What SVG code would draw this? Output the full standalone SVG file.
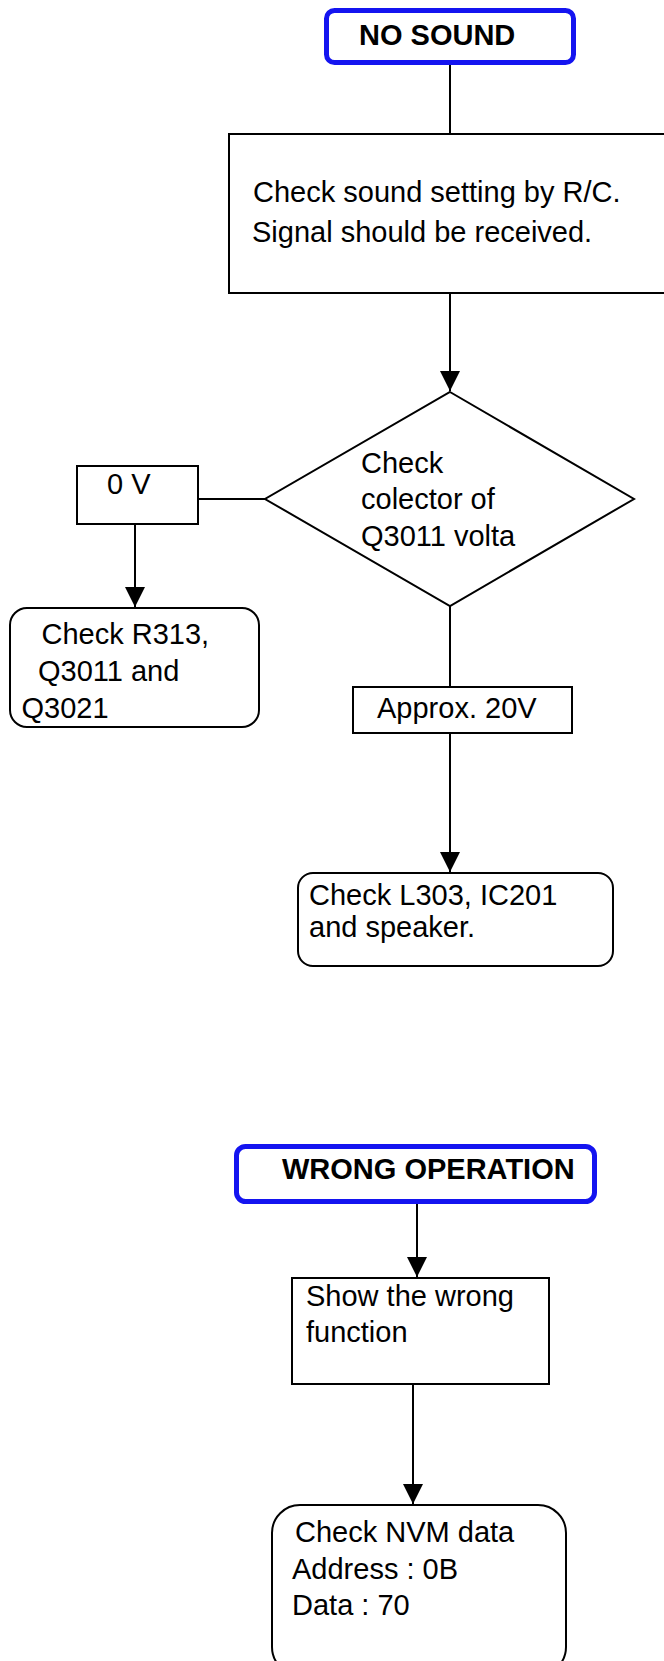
<svg xmlns="http://www.w3.org/2000/svg" width="664" height="1661" viewBox="0 0 664 1661">
<style>
.t{font-family:"Liberation Sans",Arial,sans-serif;font-size:29px;fill:#000}
.b{font-family:"Liberation Sans",Arial,sans-serif;font-size:29px;font-weight:bold;fill:#000}
.box{fill:#fff;stroke:#000;stroke-width:2}
.start{fill:#fff;stroke:#1414f0;stroke-width:5}
.c{fill:none;stroke:#000;stroke-width:2}
</style>
<defs>
<marker id="ah" markerUnits="userSpaceOnUse" markerWidth="21" markerHeight="21" refX="20" refY="10" orient="auto">
<path d="M0,0 L20,10 L0,20 z" fill="#000"/>
</marker>
</defs>
<rect width="664" height="1661" fill="#fff"/>
<g id="connectors">
<line class="c" x1="450" y1="65" x2="450" y2="134"/>
<line class="c" x1="450" y1="294" x2="450" y2="391" marker-end="url(#ah)"/>
<line class="c" x1="265" y1="499" x2="198" y2="499"/>
<line class="c" x1="135" y1="524" x2="135" y2="607" marker-end="url(#ah)"/>
<line class="c" x1="450" y1="606" x2="450" y2="687"/>
<line class="c" x1="450" y1="733" x2="450" y2="872" marker-end="url(#ah)"/>
<line class="c" x1="417" y1="1204" x2="417" y2="1277" marker-end="url(#ah)"/>
<line class="c" x1="413" y1="1384" x2="413" y2="1504" marker-end="url(#ah)"/>
</g>
<g id="no-sound">
<rect class="start" x="326.5" y="10.5" width="247" height="52" rx="8"/>
<text class="b" x="359" y="45">NO SOUND</text>
</g>
<g id="check-sound-setting">
<rect class="box" x="229" y="134" width="440" height="159"/>
<text class="t" x="253" y="202">Check sound setting by R/C.</text>
<text class="t" x="252" y="241.5">Signal should be received.</text>
</g>
<g id="check-collector">
<polygon class="box" points="450,392 634,499 450,606 265,499"/>
<text class="t" x="361" y="473">Check</text>
<text class="t" x="361" y="509">colector of</text>
<text class="t" x="361" y="546">Q3011 volta</text>
</g>
<g id="zero-volt">
<rect class="box" x="77" y="466" width="121" height="58"/>
<text class="t" x="107" y="494">0 V</text>
</g>
<g id="check-r313">
<rect class="box" x="10" y="608" width="249" height="119" rx="17"/>
<text class="t" x="41.5" y="644">Check R313,</text>
<text class="t" x="38" y="681">Q3011 and</text>
<text class="t" x="21.5" y="718">Q3021</text>
</g>
<g id="approx-20v">
<rect class="box" x="353" y="687" width="219" height="46"/>
<text class="t" x="377" y="718">Approx. 20V</text>
</g>
<g id="check-l303">
<rect class="box" x="298" y="873" width="315" height="93" rx="15"/>
<text class="t" x="309" y="905">Check L303, IC201</text>
<text class="t" x="309" y="937">and speaker.</text>
</g>
<g id="wrong-operation">
<rect class="start" x="236.5" y="1146.5" width="358" height="55" rx="9"/>
<text class="b" x="282" y="1179">WRONG OPERATION</text>
</g>
<g id="show-wrong-function">
<rect class="box" x="292" y="1278" width="257" height="106"/>
<text class="t" x="306" y="1306">Show the wrong</text>
<text class="t" x="306" y="1342">function</text>
</g>
<g id="check-nvm">
<rect class="box" x="272" y="1505" width="294" height="170" rx="28"/>
<text class="t" x="295" y="1542">Check NVM data</text>
<text class="t" x="292" y="1579">Address : 0B</text>
<text class="t" x="292" y="1615">Data : 70</text>
</g>
</svg>
